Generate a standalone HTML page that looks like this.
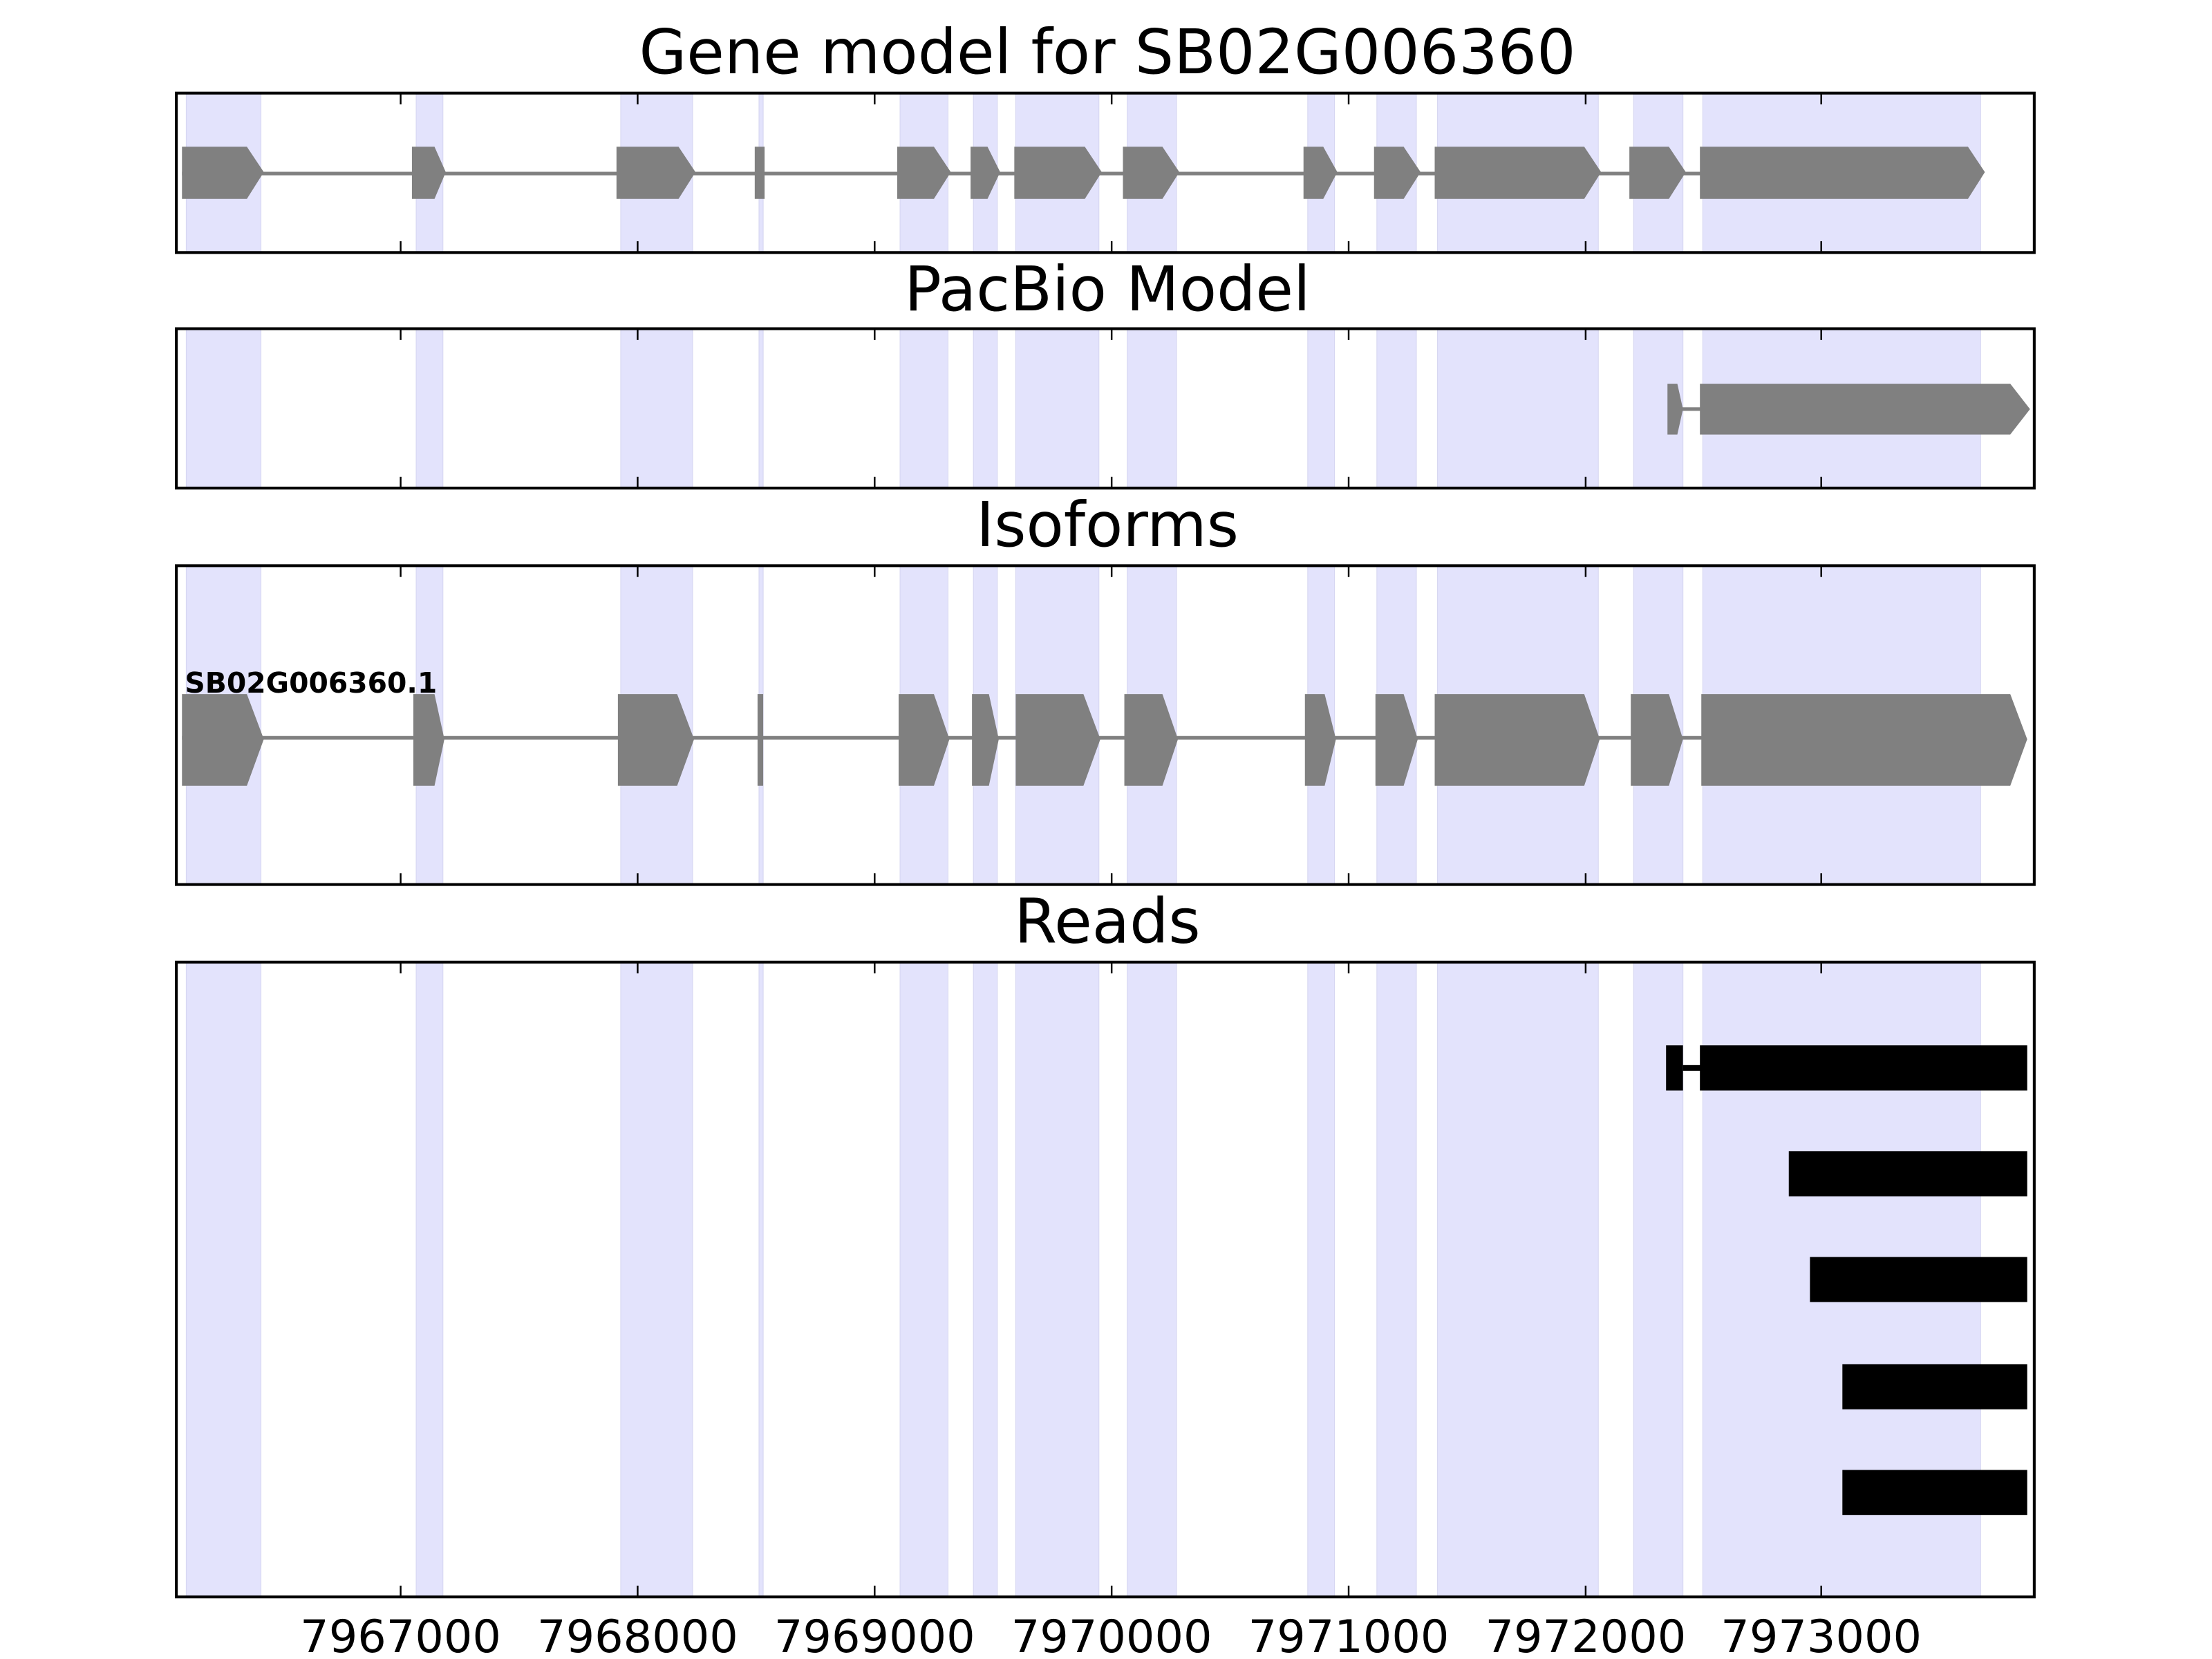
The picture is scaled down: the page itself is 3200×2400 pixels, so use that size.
<!DOCTYPE html>
<html><head><meta charset="utf-8"><style>html,body{margin:0;padding:0;background:#fff}svg{display:block}</style></head><body>
<svg width="3200" height="2400" viewBox="0 0 1568 1176" xmlns="http://www.w3.org/2000/svg" font-family="DejaVu Sans, Liberation Sans, sans-serif">
<defs>
<g id="shade" fill="#e3e3fc" stroke="#d4d4f0" stroke-width="1" vector-effect="non-scaling-stroke">
<rect vector-effect="non-scaling-stroke" x="132" y="0" width="53" height="1"/><rect vector-effect="non-scaling-stroke" x="295" y="0" width="19" height="1"/><rect vector-effect="non-scaling-stroke" x="440" y="0" width="51" height="1"/><rect vector-effect="non-scaling-stroke" x="538" y="0" width="3" height="1"/><rect vector-effect="non-scaling-stroke" x="638" y="0" width="34" height="1"/><rect vector-effect="non-scaling-stroke" x="690" y="0" width="17" height="1"/><rect vector-effect="non-scaling-stroke" x="720" y="0" width="59" height="1"/><rect vector-effect="non-scaling-stroke" x="799" y="0" width="35" height="1"/><rect vector-effect="non-scaling-stroke" x="927" y="0" width="19" height="1"/><rect vector-effect="non-scaling-stroke" x="976" y="0" width="28" height="1"/><rect vector-effect="non-scaling-stroke" x="1019" y="0" width="114" height="1"/><rect vector-effect="non-scaling-stroke" x="1158" y="0" width="35" height="1"/><rect vector-effect="non-scaling-stroke" x="1207" y="0" width="197" height="1"/>
</g>
<g id="ticks" stroke="#000" stroke-width="1.2">
<line x1="284" y1="0" x2="284" y2="8"/><line x1="452" y1="0" x2="452" y2="8"/><line x1="620" y1="0" x2="620" y2="8"/><line x1="788" y1="0" x2="788" y2="8"/><line x1="956" y1="0" x2="956" y2="8"/><line x1="1124" y1="0" x2="1124" y2="8"/><line x1="1291" y1="0" x2="1291" y2="8"/>
</g>
</defs>
<g font-size="43.5" text-anchor="middle">
<text x="785" y="52">Gene model for SB02G006360</text>
<text x="785" y="220">PacBio Model</text>
<text x="785" y="387">Isoforms</text>
<text x="785" y="668">Reads</text>
</g>
<use href="#shade" transform="translate(0,66) scale(1,113)"/>
<use href="#shade" transform="translate(0,233) scale(1,113)"/>
<use href="#shade" transform="translate(0,401) scale(1,226)"/>
<use href="#shade" transform="translate(0,682) scale(1,450)"/>
<g fill="#808080">
<line x1="129" y1="123" x2="1400" y2="123" stroke="#808080" stroke-width="2.5"/>
<polygon points="129,104 175,104 187,122 175,141 129,141"/>
<polygon points="292,104 308,104 316,122 308,141 292,141"/>
<polygon points="437,104 481,104 493,122 481,141 437,141"/>
<rect x="535" y="104" width="7" height="37"/>
<polygon points="636,104 662,104 674,122 662,141 636,141"/>
<polygon points="688,104 700,104 709,122 700,141 688,141"/>
<polygon points="719,104 769,104 781,122 769,141 719,141"/>
<polygon points="796,104 824,104 836,122 824,141 796,141"/>
<polygon points="924,104 938,104 948,122 938,141 924,141"/>
<polygon points="974,104 995,104 1007,122 995,141 974,141"/>
<polygon points="1017,104 1123,104 1135,122 1123,141 1017,141"/>
<polygon points="1155,104 1183,104 1195,122 1183,141 1155,141"/>
<polygon points="1205,104 1395,104 1407,122 1395,141 1205,141"/>
</g>
<g fill="#808080">
<line x1="1190" y1="290" x2="1206" y2="290" stroke="#808080" stroke-width="2.5"/>
<polygon points="1182,272 1189,272 1193,290 1189,308 1182,308"/>
<polygon points="1205,272 1425,272 1439,290 1425,308 1205,308"/>
</g>
<g fill="#808080">
<line x1="129" y1="523" x2="1430" y2="523" stroke="#808080" stroke-width="2.5"/>
<polygon points="129,492 175,492 187,524 175,557 129,557"/>
<polygon points="293,492 308,492 315,524 308,557 293,557"/>
<polygon points="438,492 480,492 492,524 480,557 438,557"/>
<rect x="537" y="492" width="4" height="65"/>
<polygon points="637,492 662,492 673,524 662,557 637,557"/>
<polygon points="689,492 701,492 708,524 701,557 689,557"/>
<polygon points="720,492 768,492 780,524 768,557 720,557"/>
<polygon points="797,492 824,492 835,524 824,557 797,557"/>
<polygon points="925,492 939,492 947,524 939,557 925,557"/>
<polygon points="975,492 995,492 1005,524 995,557 975,557"/>
<polygon points="1017,492 1123,492 1134,524 1123,557 1017,557"/>
<polygon points="1156,492 1183,492 1193,524 1183,557 1156,557"/>
<polygon points="1206,492 1425,492 1437,524 1425,557 1206,557"/>
</g>
<text x="131" y="491" font-size="20" font-weight="bold">SB02G006360.1</text>
<g fill="#000">
<rect x="1181" y="741" width="12" height="32"/>
<rect x="1193" y="755" width="13" height="4"/>
<rect x="1205" y="741" width="232" height="32"/>
<rect x="1268" y="816" width="169" height="32"/>
<rect x="1283" y="891" width="154" height="32"/>
<rect x="1306" y="967" width="131" height="32"/>
<rect x="1306" y="1042" width="131" height="32"/>
</g>
<use href="#ticks" transform="translate(0,66)"/><use href="#ticks" transform="translate(0,179) scale(1,-1)"/>
<use href="#ticks" transform="translate(0,233)"/><use href="#ticks" transform="translate(0,346) scale(1,-1)"/>
<use href="#ticks" transform="translate(0,401)"/><use href="#ticks" transform="translate(0,627) scale(1,-1)"/>
<use href="#ticks" transform="translate(0,682)"/><use href="#ticks" transform="translate(0,1132) scale(1,-1)"/>
<g fill="none" stroke="#000" stroke-width="2">
<rect x="125" y="66" width="1317" height="113"/>
<rect x="125" y="233" width="1317" height="113"/>
<rect x="125" y="401" width="1317" height="226"/>
<rect x="125" y="682" width="1317" height="450"/>
</g>
<g font-size="32" text-anchor="middle">
<text x="284" y="1171">7967000</text><text x="452" y="1171">7968000</text><text x="620" y="1171">7969000</text><text x="788" y="1171">7970000</text><text x="956" y="1171">7971000</text><text x="1124" y="1171">7972000</text><text x="1291" y="1171">7973000</text>
</g>
</svg>
</body></html>
